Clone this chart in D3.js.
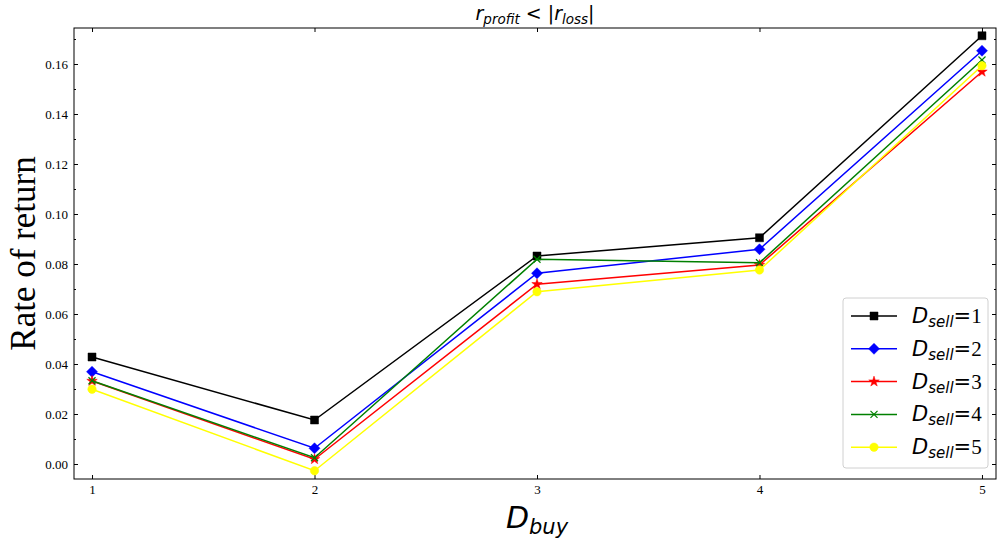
<!DOCTYPE html>
<html><head><meta charset="utf-8">
<script src="https://cdn.jsdelivr.net/npm/d3@7"></script>
<style>body{margin:0;background:#fff}svg{display:block}</style>
</head><body><svg id="c" width="998" height="542"></svg>
<script>
const dBuy = [1, 2, 3, 4, 5];
const seriesNames = ["1", "2", "3", "4", "5"];
const s1 = [0.0428, 0.0176, 0.0832, 0.0905, 0.1713];
const s2 = [0.0369, 0.0063, 0.0763, 0.0859, 0.1653];
const s3 = [0.0332, 0.0019, 0.0719, 0.0796, 0.1569];
const s4 = [0.0333, 0.0025, 0.0819, 0.0805, 0.1616];
const s5 = [0.0299, -0.0027, 0.0689, 0.0776, 0.1593];
const yTicks = [0.00, 0.02, 0.04, 0.06, 0.08, 0.10, 0.12, 0.14, 0.16];
const yMinor = [0.01, 0.03, 0.05, 0.07, 0.09, 0.11, 0.13, 0.15, 0.17];

const colors = ["#000000", "#0000ff", "#ff0000", "#008000", "#ffff00"];
const markers = ["square", "diamond", "star", "x", "circle"];
const series = [s1, s2, s3, s4, s5];

const L = 74, R = 996, T = 28, B = 479;
const svg = d3.select("#c");
const x = d3.scaleLinear().domain([0.919, 5.063]).range([L, R]);
const y = d3.scaleLinear().domain([-0.006, 0.1744]).range([B, T]);

const fmt = d3.format(".2f");
function styleAxis(g) {
  g.select(".domain").remove();
  g.selectAll("line").attr("stroke", "#000").attr("stroke-width", 1);
  g.selectAll("text").attr("font-family", "Liberation Serif, Times New Roman, serif").attr("font-size", 13).attr("fill", "#000");
}
svg.append("g").attr("transform", `translate(${L},0)`)
  .call(d3.axisLeft(y).tickValues(yTicks).tickFormat(fmt).tickSizeInner(-4).tickSizeOuter(0).tickPadding(6))
  .call(styleAxis);
svg.append("g").attr("transform", `translate(${L},0)`)
  .call(d3.axisLeft(y).tickValues(yMinor).tickFormat("").tickSizeInner(-2).tickSizeOuter(0))
  .call(styleAxis);
svg.append("g").attr("transform", `translate(${R},0)`)
  .call(d3.axisRight(y).tickValues(yTicks).tickFormat("").tickSizeInner(-4).tickSizeOuter(0))
  .call(styleAxis);
svg.append("g").attr("transform", `translate(${R},0)`)
  .call(d3.axisRight(y).tickValues(yMinor).tickFormat("").tickSizeInner(-2).tickSizeOuter(0))
  .call(styleAxis);
svg.append("g").attr("transform", `translate(0,${B})`)
  .call(d3.axisBottom(x).tickValues(dBuy).tickFormat(d3.format("d")).tickSizeInner(-4).tickSizeOuter(0).tickPadding(6))
  .call(styleAxis);
svg.append("g").attr("transform", `translate(0,${T})`)
  .call(d3.axisTop(x).tickValues(dBuy).tickFormat("").tickSizeInner(-4).tickSizeOuter(0))
  .call(styleAxis);

svg.append("rect").attr("x", L).attr("y", T).attr("width", R - L).attr("height", B - T)
  .attr("fill", "none").attr("stroke", "#000").attr("stroke-width", 1);

const sym = {
  square: () => d3.symbol().type(d3.symbolSquare).size(64)(),
  diamond: () => "M0,-5.5L5.5,0L0,5.5L-5.5,0Z",
  star: () => d3.symbol().type(d3.symbolStar).size(34)(),
  x: () => d3.symbol().type(d3.symbolTimes).size(34)(),
  circle: () => d3.symbol().type(d3.symbolCircle).size(56)()
};
function drawMarker(g, m, c, cx, cy) {
  const p = g.append("path").attr("d", sym[m]()).attr("transform", `translate(${cx},${cy})`);
  if (m === "x") p.attr("fill", "none").attr("stroke", c).attr("stroke-width", 1.2);
  else p.attr("fill", c).attr("stroke", c).attr("stroke-width", 0.5);
}

const line = d3.line().x((d, i) => x(dBuy[i])).y(d => y(d));
const plot = svg.append("g");
series.forEach((s, k) => {
  plot.append("path").datum(s).attr("d", line).attr("fill", "none")
    .attr("stroke", colors[k]).attr("stroke-width", 1.5);
  s.forEach((v, i) => drawMarker(plot, markers[k], colors[k], x(dBuy[i]), y(v)));
});

// title
const title = svg.append("text").attr("x", (L + R) / 2).attr("y", 20).attr("text-anchor", "middle")
  .attr("font-family", "DejaVu Sans, sans-serif").attr("font-size", 19).attr("fill", "#000");
title.append("tspan").attr("font-style", "italic").text("r");
title.append("tspan").attr("font-style", "italic").attr("font-size", 13.5).attr("dy", 4).text("profit");
title.append("tspan").attr("dy", -4).text(" < |");
title.append("tspan").attr("font-style", "italic").text("r");
title.append("tspan").attr("font-style", "italic").attr("font-size", 13.5).attr("dy", 4).text("loss");
title.append("tspan").attr("dy", -4).text("|");

// x label
const xl = svg.append("text").attr("x", 537).attr("y", 528).attr("text-anchor", "middle")
  .attr("font-family", "DejaVu Sans, sans-serif").attr("font-size", 30).attr("fill", "#000");
xl.append("tspan").attr("font-style", "italic").text("D");
xl.append("tspan").attr("font-style", "italic").attr("font-size", 21).attr("dy", 6).text("buy");

// y label
svg.append("text").attr("transform", `translate(35,${(T + B) / 2}) rotate(-90)`).attr("text-anchor", "middle")
  .attr("font-family", "Liberation Serif, Times New Roman, serif").attr("font-size", 35).attr("fill", "#000")
  .text("Rate of return");

// legend
const lg = svg.append("g");
lg.append("rect").attr("x", 843).attr("y", 298).attr("width", 145).attr("height", 170).attr("rx", 3)
  .attr("fill", "#fff").attr("fill-opacity", 0.8).attr("stroke", "#d0d0d0").attr("stroke-width", 1);
seriesNames.forEach((n, k) => {
  const cy = 316 + k * 32.8;
  lg.append("line").attr("x1", 851).attr("x2", 897).attr("y1", cy).attr("y2", cy)
    .attr("stroke", colors[k]).attr("stroke-width", 1.5);
  drawMarker(lg, markers[k], colors[k], 874, cy);
  const t = lg.append("text").attr("x", 912).attr("y", cy + 7).attr("font-size", 21)
    .attr("font-family", "DejaVu Sans, sans-serif").attr("fill", "#000");
  t.append("tspan").attr("font-style", "italic").text("D");
  t.append("tspan").attr("font-style", "italic").attr("font-size", 15).attr("dy", 4).text("sell");
  t.append("tspan").attr("dy", -4).text("=");
  t.append("tspan").attr("font-family", "Liberation Serif, Times New Roman, serif").text(n);
});
</script></body></html>
